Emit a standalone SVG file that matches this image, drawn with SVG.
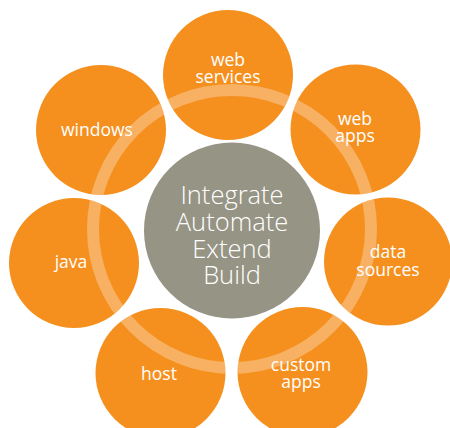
<svg xmlns="http://www.w3.org/2000/svg" width="450" height="428" viewBox="0 0 450 428">
<style>
.n{fill:#f5901f}
.t{font-family:"Open Sans","Liberation Sans",sans-serif;font-size:17.5px;fill:#fff;text-anchor:middle}
.c{font-family:"Open Sans","Liberation Sans",sans-serif;font-size:25.5px;fill:#fff;text-anchor:middle;font-weight:300}
</style>
<defs>
<clipPath id="cp">
<circle cx="228" cy="75" r="65"/>
<circle cx="355.5" cy="129.5" r="65"/>
<circle cx="388" cy="261.5" r="64"/>
<circle cx="302.5" cy="372" r="65"/>
<circle cx="160.5" cy="373" r="65"/>
<circle cx="74" cy="263" r="65"/>
<circle cx="101" cy="130" r="65"/>
</clipPath>
</defs>
<rect width="450" height="428" fill="#fff"/>
<g id="web-services"><circle class="n" cx="228" cy="75" r="65"/><text class="t"><tspan x="228" y="66">web</tspan><tspan x="228" y="83">services</tspan></text></g>
<g id="web-apps"><circle class="n" cx="355.5" cy="129.5" r="65"/><text class="t"><tspan x="355" y="125">web</tspan><tspan x="355" y="142">apps</tspan></text></g>
<g id="data-sources"><circle class="n" cx="388" cy="261.5" r="64"/><text class="t"><tspan x="388" y="258">data</tspan><tspan x="388" y="276">sources</tspan></text></g>
<g id="custom-apps"><circle class="n" cx="302.5" cy="372" r="65"/><text class="t"><tspan x="301" y="371">custom</tspan><tspan x="301" y="388">apps</tspan></text></g>
<g id="host"><circle class="n" cx="160.5" cy="373" r="65"/><text class="t" x="159" y="380">host</text></g>
<g id="java"><circle class="n" cx="74" cy="263" r="65"/><text class="t" x="71" y="268">java</text></g>
<g id="windows"><circle class="n" cx="101" cy="130" r="65"/><text class="t" x="97" y="136">windows</text></g>
<g id="connectors">
<circle cx="232" cy="229" r="139" fill="none" stroke="#fff" stroke-opacity="0.3" stroke-width="12" clip-path="url(#cp)"/>
</g>
<g id="center"><circle cx="232" cy="230.5" r="88" fill="#969484"/>
<text class="c"><tspan x="232" y="204">Integrate</tspan><tspan x="232" y="231">Automate</tspan><tspan x="232" y="258">Extend</tspan><tspan x="232" y="284">Build</tspan></text></g>
</svg>
